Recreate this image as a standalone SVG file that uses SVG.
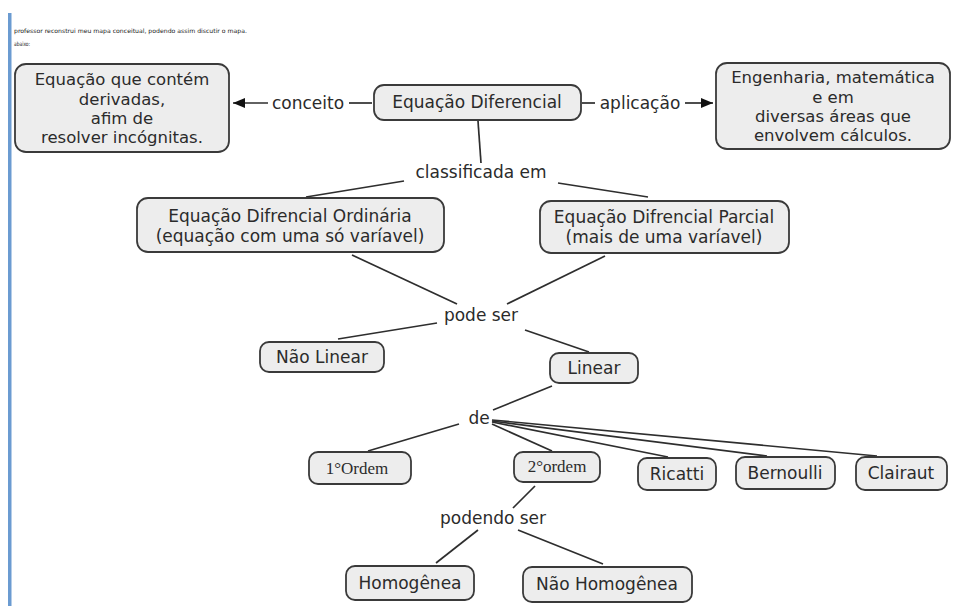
<svg xmlns="http://www.w3.org/2000/svg" width="956" height="606" viewBox="0 0 956 606">
  <defs>
    <marker id="arrow" viewBox="0 0 12 10" refX="12" refY="5" markerWidth="12" markerHeight="10" markerUnits="userSpaceOnUse" orient="auto">
      <path d="M0,0 L12,5 L0,10 Z" fill="#111"/>
    </marker>
  </defs>
  <style>
    .node rect { fill: #ededed; stroke: #3a3a3a; stroke-width: 1.8; }
    .label { font-family: "DejaVu Sans", Verdana, sans-serif; font-size: 17px; fill: #2b2b2b; text-anchor: middle; }
    .multi { font-size: 16.5px; }
    .serif { font-family: "Liberation Serif", "Times New Roman", serif; font-size: 17px; fill: #2b2b2b; text-anchor: middle; }
    .link { stroke: #2e2e2e; stroke-width: 1.7; fill: none; }
    .note { font-family: "DejaVu Sans", Verdana, sans-serif; font-size: 6px; fill: #222; }
  </style>

  <rect x="0" y="0" width="956" height="606" fill="#fff"/>
  <!-- left margin bar -->
  <rect x="8" y="13" width="3.5" height="593" fill="#6b9bd1"/>

  <!-- header note -->
  <text class="note" x="14" y="33" textLength="233" lengthAdjust="spacingAndGlyphs">professor reconstrui meu mapa conceitual, podendo assim discutir o mapa.</text>
  <text class="note" x="14" y="46" textLength="16" lengthAdjust="spacingAndGlyphs">abaixo:</text>

  <!-- connectors -->
  <g id="connectors">
    <line class="link" x1="268" y1="103" x2="233" y2="103" marker-end="url(#arrow)"/>
    <line class="link" x1="349" y1="103" x2="372" y2="103"/>
    <line class="link" x1="582" y1="103" x2="595" y2="103"/>
    <line class="link" x1="685" y1="103" x2="713" y2="103" marker-end="url(#arrow)"/>
    <line class="link" x1="478" y1="121" x2="481" y2="163"/>
    <line class="link" x1="404" y1="181" x2="306" y2="197"/>
    <line class="link" x1="558" y1="183" x2="648" y2="197"/>
    <line class="link" x1="352" y1="255" x2="457" y2="304"/>
    <line class="link" x1="605" y1="256" x2="507" y2="304"/>
    <line class="link" x1="437" y1="323" x2="338" y2="339"/>
    <line class="link" x1="525" y1="330" x2="589" y2="352"/>
    <line class="link" x1="552" y1="386" x2="493" y2="410"/>
    <line class="link" x1="459" y1="424" x2="368" y2="451"/>
    <line class="link" x1="492" y1="424" x2="552" y2="451"/>
    <line class="link" x1="492" y1="422" x2="668" y2="457"/>
    <line class="link" x1="492" y1="421" x2="767" y2="456"/>
    <line class="link" x1="492" y1="420" x2="877" y2="456"/>
    <line class="link" x1="535" y1="486" x2="513" y2="508"/>
    <line class="link" x1="478" y1="530" x2="436" y2="563"/>
    <line class="link" x1="518" y1="530" x2="603" y2="564"/>
  </g>

  <!-- linking phrases -->
  <g id="phrases">
    <text class="label" x="308" y="109">conceito</text>
    <text class="label" x="640" y="109">aplicação</text>
    <text class="label" x="481" y="178">classificada em</text>
    <text class="label" x="481" y="321">pode ser</text>
    <text class="label" x="479" y="424">de</text>
    <text class="label" x="493" y="524">podendo ser</text>
  </g>

  <g id="n-conceito" class="node">
    <rect x="15" y="64" width="214" height="88" rx="11"/>
    <text class="label multi" x="122" y="85.3">Equação que contém</text>
    <text class="label multi" x="122" y="104.6">derivadas,</text>
    <text class="label multi" x="122" y="123.9">afim de</text>
    <text class="label multi" x="122" y="143.2">resolver incógnitas.</text>
  </g>

  <g id="n-equacao" class="node">
    <rect x="374" y="85" width="207" height="35" rx="10"/>
    <text class="label" x="477" y="108">Equação Diferencial</text>
  </g>

  <g id="n-aplicacao" class="node">
    <rect x="716" y="63" width="234" height="86" rx="11"/>
    <text class="label multi" x="833" y="83.3">Engenharia, matemática</text>
    <text class="label multi" x="833" y="102.6">e em</text>
    <text class="label multi" x="833" y="121.9">diversas áreas que</text>
    <text class="label multi" x="833" y="141.2">envolvem cálculos.</text>
  </g>

  <g id="n-ordinaria" class="node">
    <rect x="137" y="198" width="307" height="54" rx="11"/>
    <text class="label" x="290" y="222">Equação Difrencial Ordinária</text>
    <text class="label" x="290" y="242">(equação com uma só varíavel)</text>
  </g>

  <g id="n-parcial" class="node">
    <rect x="540" y="201" width="249" height="52" rx="11"/>
    <text class="label" x="664" y="223">Equação Difrencial Parcial</text>
    <text class="label" x="664" y="243">(mais de uma varíavel)</text>
  </g>

  <g id="n-naolinear" class="node">
    <rect x="260" y="342" width="124" height="30" rx="9"/>
    <text class="label" x="322" y="363">Não Linear</text>
  </g>

  <g id="n-linear" class="node">
    <rect x="550" y="353" width="88" height="30" rx="9"/>
    <text class="label" x="594" y="374">Linear</text>
  </g>

  <g id="n-primeira" class="node">
    <rect x="309" y="452" width="102" height="32" rx="9"/>
    <text class="serif" x="357" y="474">1°Ordem</text>
  </g>

  <g id="n-segunda" class="node">
    <rect x="514" y="452" width="86" height="30" rx="9"/>
    <text class="serif" x="557" y="472">2°ordem</text>
  </g>

  <g id="n-ricatti" class="node">
    <rect x="638" y="458" width="78" height="32" rx="9"/>
    <text class="label" x="677" y="480">Ricatti</text>
  </g>

  <g id="n-bernoulli" class="node">
    <rect x="736" y="457" width="99" height="32" rx="9"/>
    <text class="label" x="785" y="479">Bernoulli</text>
  </g>

  <g id="n-clairaut" class="node">
    <rect x="856" y="457" width="91" height="33" rx="9"/>
    <text class="label" x="901" y="479">Clairaut</text>
  </g>

  <g id="n-homogenea" class="node">
    <rect x="346" y="566" width="128" height="34" rx="9"/>
    <text class="label" x="410" y="589">Homogênea</text>
  </g>

  <g id="n-naohomogenea" class="node">
    <rect x="523" y="567" width="169" height="35" rx="9"/>
    <text class="label" x="607" y="590">Não Homogênea</text>
  </g>
</svg>
